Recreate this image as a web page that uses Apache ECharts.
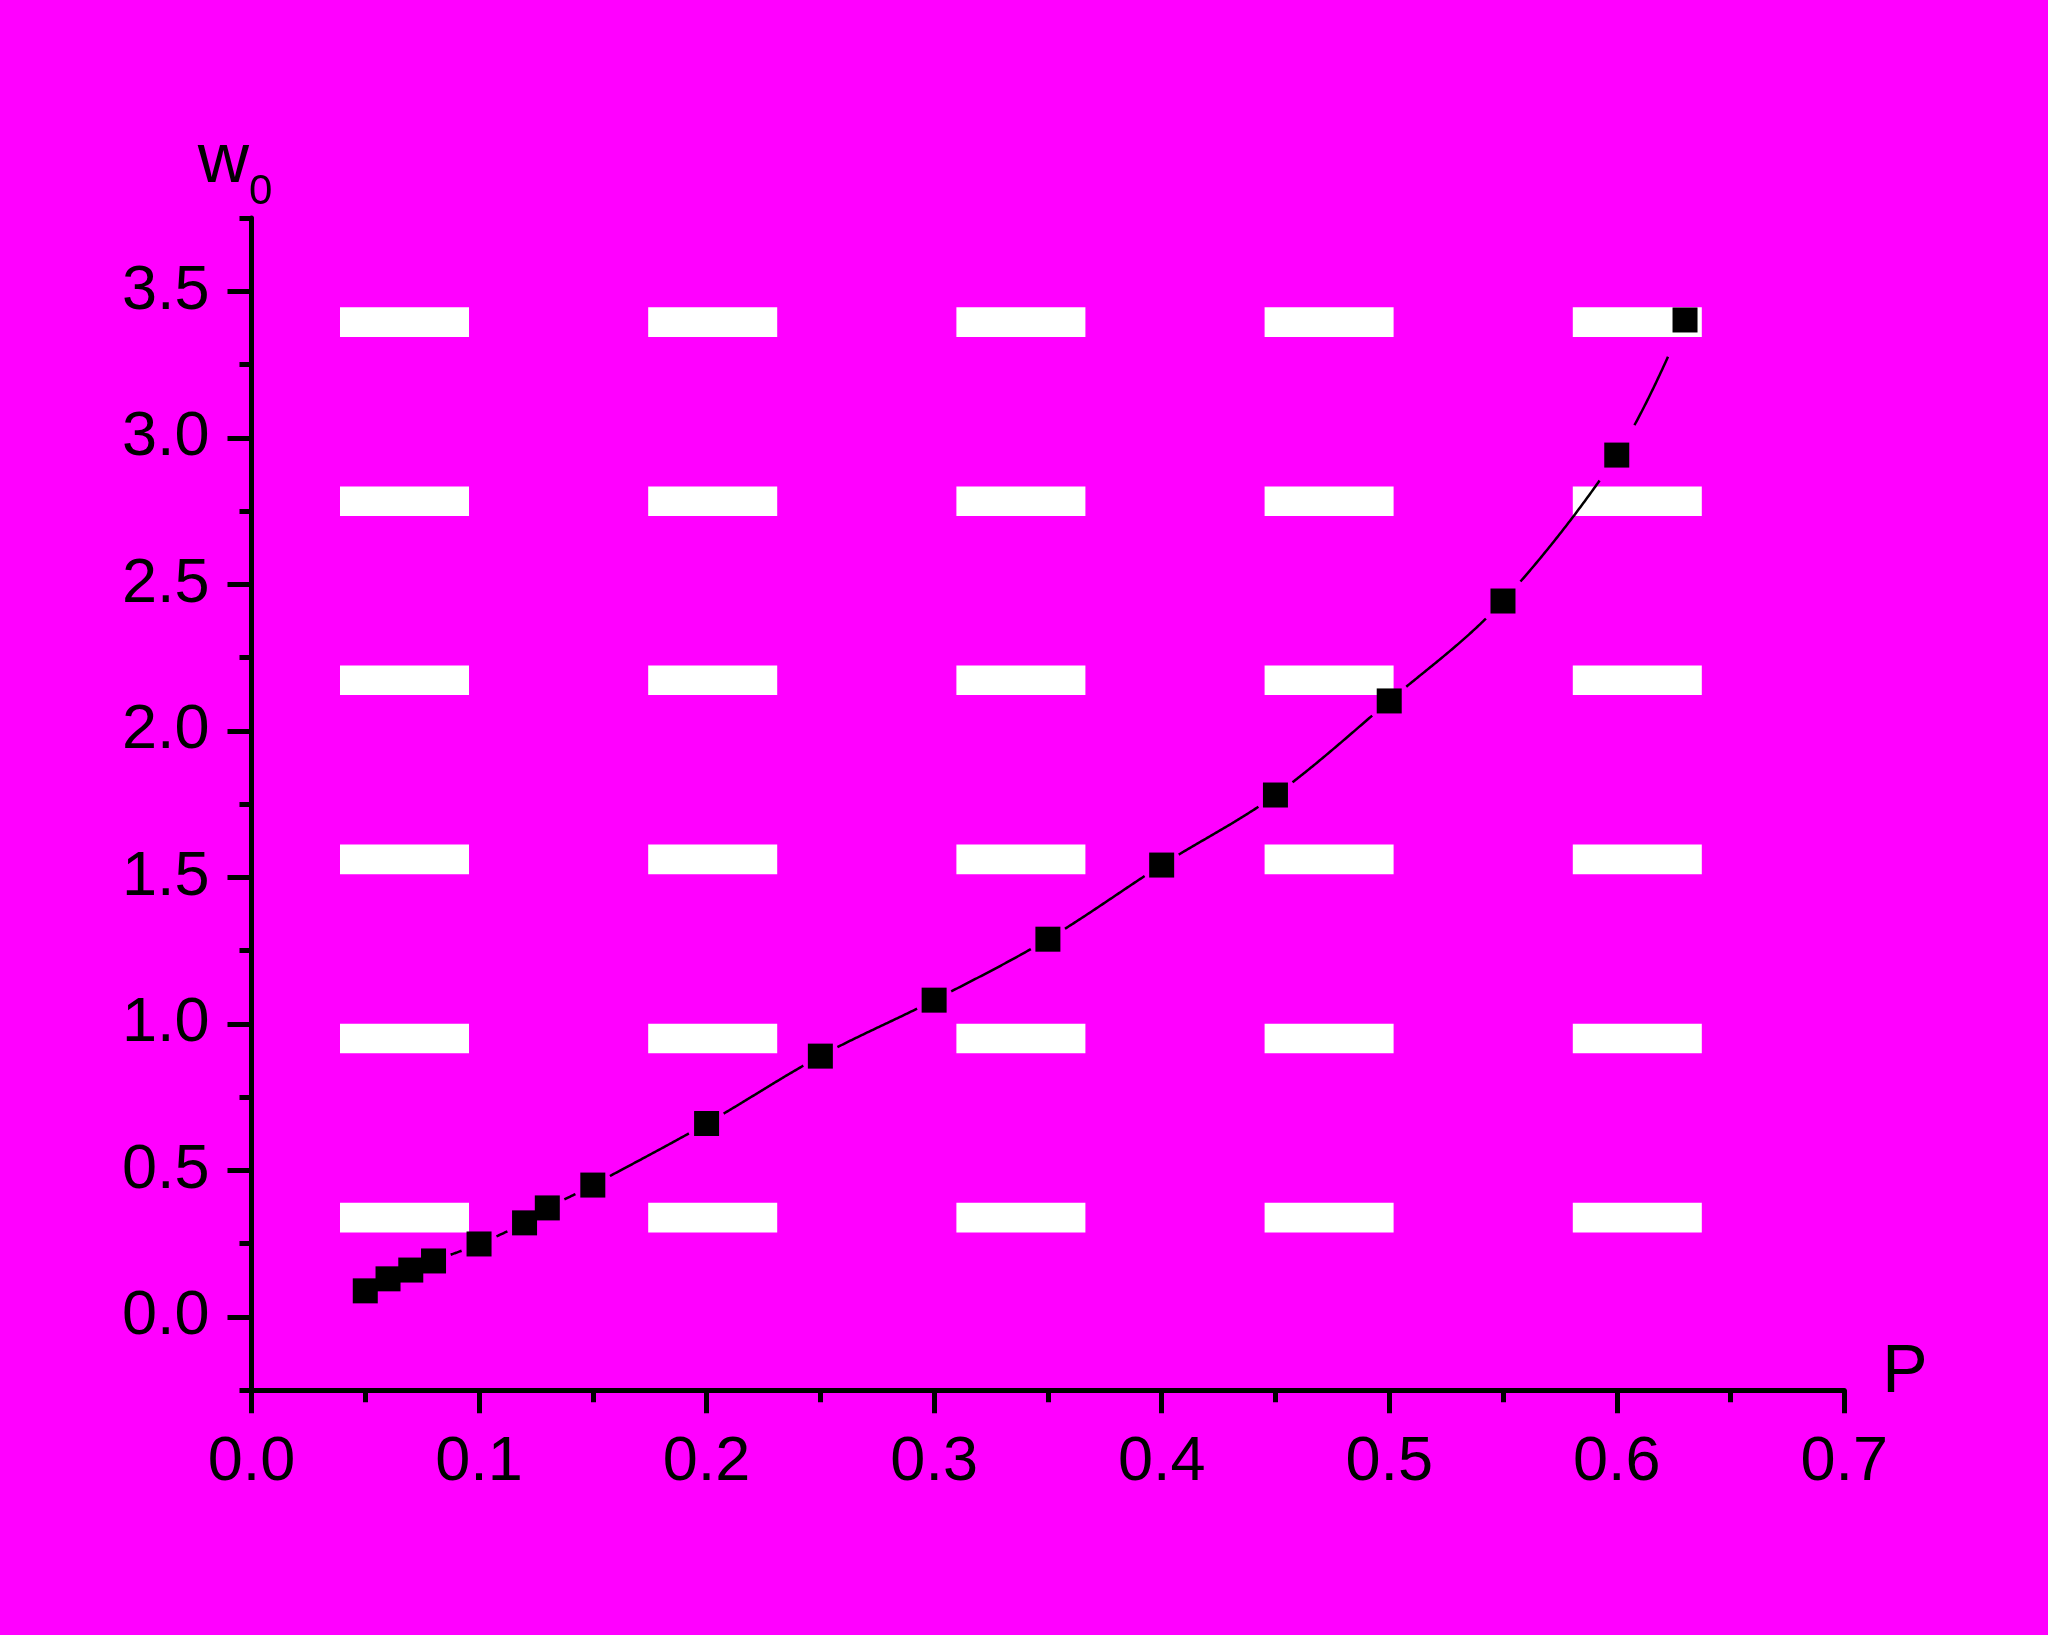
<!DOCTYPE html>
<html>
<head>
<meta charset="utf-8">
<script src="https://cdn.jsdelivr.net/npm/echarts@6/dist/echarts.min.js"></script>
<style>
html,body{margin:0;padding:0;background:#FF00FF;}
#chart{width:2048px;height:1635px;}
</style>
</head>
<body>
<div id="chart"></div>
<script>
// ---- data ----
const pValues  = [0.05, 0.06, 0.07, 0.08, 0.10, 0.12, 0.13, 0.15, 0.20, 0.25, 0.30, 0.35, 0.40, 0.45, 0.50, 0.55, 0.60, 0.63];
const w0Values = [0.089, 0.130, 0.160, 0.191, 0.249, 0.321, 0.372, 0.450, 0.660, 0.890, 1.081, 1.289, 1.542, 1.781, 2.102, 2.443, 2.941, 3.402];
const xMajorTicks = [0, 0.1, 0.2, 0.3, 0.4, 0.5, 0.6, 0.7];
const xMinorTicks = [0.05, 0.15, 0.25, 0.35, 0.45, 0.55, 0.65];
const yMajorTicks = [0, 0.5, 1.0, 1.5, 2.0, 2.5, 3.0, 3.5];
const yMinorTicks = [-0.25, 0.25, 0.75, 1.25, 1.75, 2.25, 2.75, 3.25, 3.75];
const xName = 'P';
const yName = '{w|w}{s|0}';

const FONT = '"Liberation Sans", Arial, sans-serif';
const chart = echarts.init(document.getElementById('chart'), null, {renderer: 'canvas'});

// decorative white dash pattern in the plot background
const dashes = [];
for (let i = 0; i < 5; i++) {
  for (let j = 0; j < 6; j++) {
    dashes.push({
      type: 'rect', z: 0, silent: true,
      shape: {x: 340 + i * 308.2, y: 307.3 + j * 179.1, width: 129, height: 29.6},
      style: {fill: '#FFFFFF'}
    });
  }
}

const GAP = 17;
const axisLineStyle = {color: '#000', width: 5};

const option = {
  animation: false,
  backgroundColor: '#FF00FF',
  graphic: dashes,
  grid: {left: 251.5, right: 203.7, top: 218, bottom: 244.8, containLabel: false},
  xAxis: [
    {
      type: 'value', min: 0, max: 0.7, position: 'bottom',
      axisLine: {show: true, onZero: false, lineStyle: axisLineStyle},
      axisTick: {show: true, customValues: xMajorTicks, length: 23, lineStyle: {color: '#000', width: 5}},
      axisLabel: {customValues: xMajorTicks, formatter: v => v.toFixed(1), margin: 41, fontSize: 63, color: '#000', fontFamily: FONT},
      splitLine: {show: false},
      name: xName, nameLocation: 'end', nameGap: 38,
      nameTextStyle: {fontSize: 68, lineHeight: 34, verticalAlign: 'bottom', align: 'left', color: '#000', fontFamily: FONT}
    },
    {
      type: 'value', min: 0, max: 0.7, position: 'bottom',
      axisLine: {show: false, onZero: false},
      axisTick: {show: true, customValues: xMinorTicks, length: 12, lineStyle: {color: '#000', width: 5}},
      axisLabel: {show: false},
      splitLine: {show: false}
    }
  ],
  yAxis: [
    {
      type: 'value', min: -0.25, max: 3.75, position: 'left',
      axisLine: {show: true, onZero: false, lineStyle: axisLineStyle},
      axisTick: {show: true, customValues: yMajorTicks, length: 24, lineStyle: {color: '#000', width: 5}},
      axisLabel: {customValues: yMajorTicks, formatter: v => v.toFixed(1), margin: 42, fontSize: 63, color: '#000', fontFamily: FONT},
      splitLine: {show: false},
      name: yName, nameLocation: 'end', nameGap: 20,
      nameTextStyle: {
        color: '#000', fontFamily: FONT, padding: [0, 33, 0, 0],
        rich: {
          w: {fontSize: 71, lineHeight: 71, verticalAlign: 'top', color: '#000', fontFamily: FONT},
          s: {fontSize: 42, lineHeight: 42, verticalAlign: 'top', padding: [44, 0, 0, 0], color: '#000', fontFamily: FONT}
        }
      }
    },
    {
      type: 'value', min: -0.25, max: 3.75, position: 'left',
      axisLine: {show: false, onZero: false},
      axisTick: {show: true, customValues: yMinorTicks, length: 12, lineStyle: {color: '#000', width: 5}},
      axisLabel: {show: false},
      splitLine: {show: false}
    }
  ],
  series: [
    {
      type: 'custom', z: 5, clip: false, silent: true,
      xAxisIndex: 0, yAxisIndex: 0,
      data: pValues.map((x, i) => [x, w0Values[i]]),
      encode: {x: 0, y: 1},
      renderItem: function (params, api) {
        const i = params.dataIndex;
        const n = pValues.length;
        if (i >= n - 1) return null;
        const c = k => {
          const kk = Math.max(0, Math.min(n - 1, k));
          return api.coord([pValues[kk], w0Values[kk]]);
        };
        const p0 = c(i - 1), p1 = c(i), p2 = c(i + 1), p3 = c(i + 2);
        const b1 = [p1[0] + (p2[0] - p0[0]) / 6, p1[1] + (p2[1] - p0[1]) / 6];
        const b2 = [p2[0] - (p3[0] - p1[0]) / 6, p2[1] - (p3[1] - p1[1]) / 6];
        const pts = [];
        const N = 80;
        for (let s = 0; s <= N; s++) {
          const t = s / N, u = 1 - t;
          const x = u*u*u*p1[0] + 3*u*u*t*b1[0] + 3*u*t*t*b2[0] + t*t*t*p2[0];
          const y = u*u*u*p1[1] + 3*u*u*t*b1[1] + 3*u*t*t*b2[1] + t*t*t*p2[1];
          if (Math.abs(x - p1[0]) >= GAP && Math.abs(x - p2[0]) >= GAP) pts.push([x, y]);
        }
        if (pts.length < 2) return null;
        return {type: 'polyline', shape: {points: pts}, style: {stroke: '#000', lineWidth: 2.5, fill: null}};
      }
    },
    {
      type: 'scatter', z: 10, silent: true,
      xAxisIndex: 0, yAxisIndex: 0,
      symbol: 'rect', symbolSize: 25,
      itemStyle: {color: '#000', opacity: 1},
      data: pValues.map((x, i) => [x, w0Values[i]])
    }
  ]
};
chart.setOption(option);
</script>
</body>
</html>
